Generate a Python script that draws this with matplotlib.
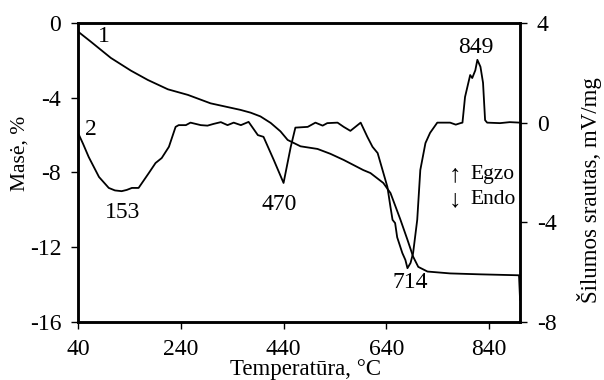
import matplotlib
matplotlib.use("Agg")
import matplotlib.pyplot as plt

plt.rcParams['font.family'] = ['Liberation Serif', 'DejaVu Serif']
plt.rcParams['axes.unicode_minus'] = False

# Mass loss curve (1), left axis
mass_T = [42, 65, 104, 143, 176, 215, 254, 298, 356, 376, 395, 415, 434, 448, 473,
          506, 531, 557, 595, 609, 634, 648, 667, 681, 692, 702, 720, 764, 823, 898, 900]
mass_val = [-0.5, -1.0, -1.87, -2.55, -3.05, -3.55, -3.85, -4.3, -4.65, -4.8, -5.0, -5.35,
            -5.8, -6.26, -6.6, -6.74, -7.0, -7.33, -7.87, -8.03, -8.56, -9.1, -10.5, -11.6,
            -12.5, -13.05, -13.3, -13.4, -13.45, -13.5, -14.8]

# Heat flow curve (2), right axis
dta_T = [42, 50, 61, 81, 100, 112, 125, 135, 145, 158, 178, 191, 203, 217, 230, 236, 250,
         259, 279, 292, 304, 318, 331, 343, 357, 372, 390, 401, 421, 440, 454, 463, 487,
         502, 516, 525, 545, 557, 570, 590, 603, 613, 623, 642, 648, 652, 657, 661, 671,
         677, 681, 687, 692, 700, 706, 716, 725, 739, 764, 775, 784, 788, 793, 803, 807,
         813, 817, 823, 828, 832, 836, 861, 880, 900]
dta_val = [-0.49, -0.85, -1.38, -2.18, -2.62, -2.72, -2.75, -2.7, -2.62, -2.62, -2.02, -1.62,
           -1.42, -0.97, -0.17, -0.1, -0.1, 0.0, -0.1, -0.12, -0.05, 0.02, -0.1, 0.0, -0.1,
           0.03, -0.5, -0.57, -1.5, -2.42, -0.97, -0.2, -0.17, 0.0, -0.12, -0.02, 0.0,
           -0.17, -0.33, 0.0, -0.57, -0.97, -1.22, -2.58, -3.39, -3.9, -4.03, -4.6, -5.23,
           -5.51, -5.84, -5.63, -5.23, -3.9, -1.9, -0.82, -0.41, 0.0, 0.0, -0.08, -0.02,
           0.0, 1.03, 1.91, 1.79, 2.1, 2.52, 2.24, 1.6, 0.1, 0.0, -0.02, 0.02, 0.0]

x_ticks = [40, 240, 440, 640, 840]
left_ticks = [0, -4, -8, -12, -16]
right_ticks = [4, 0, -4, -8]

fig = plt.figure(figsize=(6.04, 3.8), dpi=100)
ax = fig.add_axes([0.129, 0.1526, 0.732, 0.787])
ax2 = ax.twinx()

ax.plot(mass_T, mass_val, color='black', lw=1.3)
ax2.plot(dta_T, dta_val, color='black', lw=1.3)

ax.set_xlim(40, 900)
ax.set_ylim(-16, 0)
ax2.set_ylim(-8, 4)
ax.set_xticks(x_ticks)
ax.set_yticks(left_ticks)
ax2.set_yticks(right_ticks)

for a in (ax, ax2):
    for s in a.spines.values():
        s.set_linewidth(1.8)
    a.tick_params(direction='out', length=5, width=1.0, labelsize=17, pad=7)

ax.set_xlabel('Temperatūra, °C', fontsize=16.5)
ax.set_ylabel('Masė, %', fontsize=15.5)
ax2.set_ylabel('Šilumos srautas, mV/mg', fontsize=16.5)
ax.xaxis.set_label_coords(0.514, -0.123)
ax.yaxis.set_label_coords(-0.11, 0.565)
ax2.yaxis.set_label_coords(1.128, 0.44)

fs = 17
ax.text(90, -0.75, '1', fontsize=fs, ha='center', va='center')
ax2.text(65, -0.29, '2', fontsize=fs, ha='center', va='center')
ax2.text(127, -3.59, '153', fontsize=fs, ha='center', va='center')
ax2.text(432, -3.3, '470', fontsize=fs, ha='center', va='center')
ax2.text(687, -6.43, '714', fontsize=fs, ha='center', va='center')
ax2.text(813, 3.0, '849', fontsize=fs, ha='center', va='center')
ax2.text(774, -2.1, '↑', fontsize=18, ha='center', va='center')
ax2.text(804, -2.1, 'Egzo', fontsize=15.5, ha='left', va='center')
ax2.text(774, -3.1, '↓', fontsize=18, ha='center', va='center')
ax2.text(804, -3.1, 'Endo', fontsize=15.5, ha='left', va='center')

fig.savefig('out.png', dpi=100)
